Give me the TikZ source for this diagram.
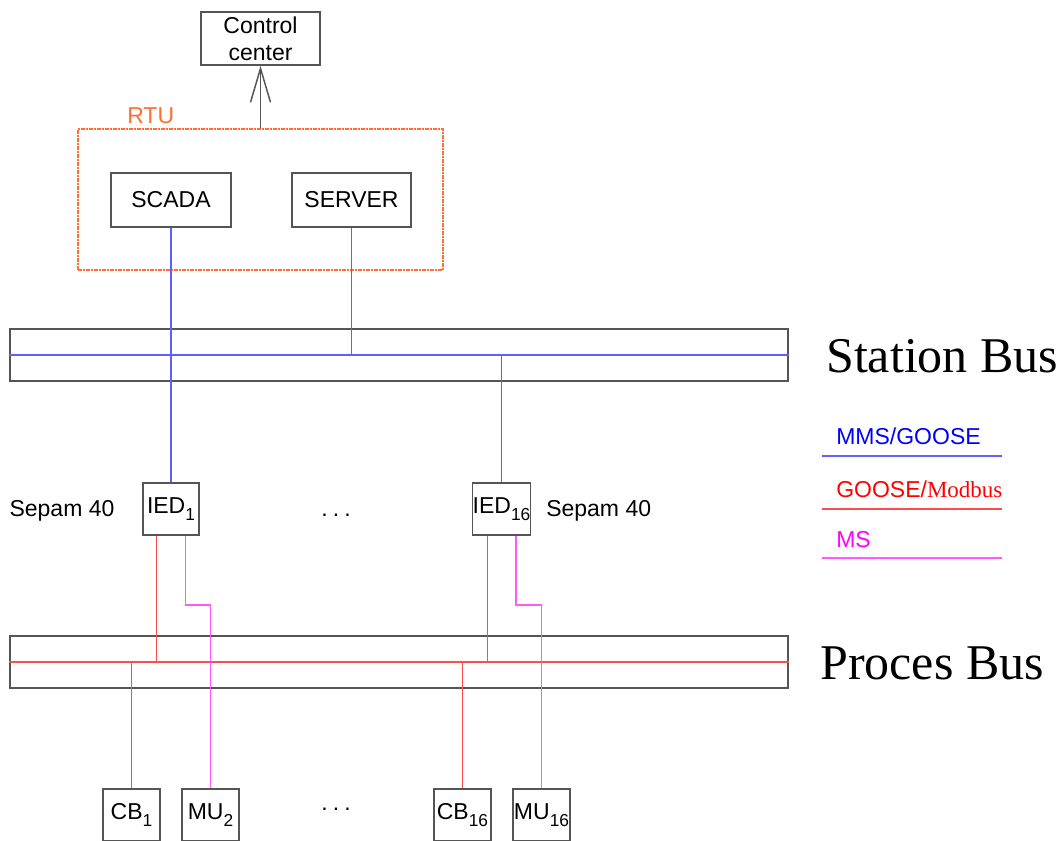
\documentclass[tikz,border=0pt]{standalone}
\usepackage{fontspec}
\setmainfont{Liberation Sans}
\newfontfamily\timesfont{Liberation Serif}
\usetikzlibrary{arrows.meta,calc}

\definecolor{boxgray}{RGB}{85,85,85}
\definecolor{rtuorange}{RGB}{255,110,50}
\definecolor{mmsblue}{RGB}{95,95,255}
\definecolor{gooseline}{RGB}{255,75,75}
\definecolor{msline}{RGB}{255,90,255}
\definecolor{puremagenta}{RGB}{255,0,255}
\definecolor{pureblue}{RGB}{0,0,255}
\definecolor{purered}{RGB}{255,0,0}

% subscript set lower and larger than \textsubscript
\newcommand\idx[1]{\raisebox{-0.28em}{\fontsize{13}{13}\selectfont #1}}
% widely spaced ellipsis
\newcommand\wdots{.\hspace{0.22em}.\hspace{0.22em}.}

\begin{document}
\begin{tikzpicture}[x=0.75pt,y=-0.75pt,
  font=\fontsize{17.25}{20.25}\selectfont,
  box/.style={draw=boxgray, line width=1.1pt, inner sep=0pt, align=center},
  smallbox/.style={box, minimum width=42.5pt, minimum height=39pt},
  busbar/.style={draw=boxgray, line width=1.3pt, inner sep=0pt,
                 minimum width=583.5pt, minimum height=39pt},
  mms/.style={draw=mmsblue, line width=1.15pt},
  goose/.style={draw=gooseline, line width=1.15pt},
  ms/.style={draw=msline, line width=1.2pt},
  bigtitle/.style={font=\timesfont\fontsize{37.5}{40}\selectfont, anchor=base west, inner sep=0pt},
  legendtext/.style={anchor=base west, inner sep=0pt},
]
\useasboundingbox (0,0) rectangle (1062,840);
\clip (0,0) rectangle (1062,840);

% control centre and RTU
\node[box, minimum width=89.25pt, minimum height=39.75pt] (cc) at (260.5,38.5) {Control\\center};
\node[draw=rtuorange, line width=0.9pt, dash pattern=on 3pt off 1pt on 1pt off 1pt,
      minimum width=273.75pt, minimum height=105.75pt, inner sep=0pt] (rtu) at (260.5,199.5) {};
\node[text=rtuorange, anchor=base west, inner sep=0pt] (rtulabel) at (127,123) {RTU};
\node[box, minimum width=90pt, minimum height=40.5pt] (scada) at (171,200) {SCADA};
\node[box, minimum width=89.25pt, minimum height=40.5pt] (server) at (351.5,200) {SERVER};
\draw[draw=boxgray, line width=1.1pt, -{Straight Barb[length=25.5pt, width=15pt, line width=1.1pt]}]
  (rtu.north) -- (cc.south);

% buses
\node[busbar] (sbus) at (399.35,355) {};
\node[busbar] (pbus) at (399.35,662) {};
\node[bigtitle] (sbuslabel) at (826,372) {Station Bus};
\node[bigtitle] (pbuslabel) at (820,679) {Proces Bus};

% IEDs
\node[smallbox, minimum width=42pt] (ied1) at (171,509) {IED\idx{1}};
\node[smallbox] (ied16) at (501.5,509) {IED\idx{16}};
\node[anchor=base, inner sep=0pt] (sep1) at (62,516) {Sepam 40};
\node[anchor=base west, inner sep=0pt] (sep16) at (546,516) {Sepam 40};
\node[anchor=base, inner sep=0pt] (dots1) at (336,516) {\wdots};

% field devices
\node[smallbox] (cb1) at (131.5,815) {CB\idx{1}};
\node[smallbox] (mu2) at (210.5,815) {MU\idx{2}};
\node[smallbox] (cb16) at (462.5,815) {CB\idx{16}};
\node[smallbox] (mu16) at (541.5,815) {MU\idx{16}};
\node[anchor=base, inner sep=0pt] (dots2) at (336,810) {\wdots};

% station bus (MMS/GOOSE)
\draw[mms] (sbus.west) -- (sbus.east);
\draw[mms] (scada.south) -- (ied1.north);
\draw[mms] (server.south) -- (server.south |- sbus.center);
\draw[mms] (ied16.north |- sbus.center) -- (ied16.north);

% process bus (GOOSE/Modbus)
\coordinate (i1r) at ($(ied1.south west)!0.25!(ied1.south east)$);
\coordinate (i16r) at ($(ied16.south west)!0.26!(ied16.south east)$);
\draw[goose] (pbus.west) -- (pbus.east);
\draw[goose] (i1r) -- (i1r |- pbus.center);
\draw[goose] (i16r) -- (i16r |- pbus.center);
\draw[goose] (cb1.north |- pbus.center) -- (cb1.north);
\draw[goose] (cb16.north |- pbus.center) -- (cb16.north);

% sampled values (MS)
\coordinate (i1m) at ($(ied1.south west)!0.75!(ied1.south east)$);
\coordinate (i16m) at ($(ied16.south west)!0.75!(ied16.south east)$);
\coordinate (jog2) at (210.5,605);
\coordinate (jog16) at (541.5,605);
\draw[ms] (i1m) |- (jog2) -- (mu2.north);
\draw[ms] (i16m) |- (jog16) -- (mu16.north);

% legend
\node[legendtext, text=pureblue] (lg1) at (836,444) {MMS/GOOSE};
\node[legendtext, text=purered] (lg2) at (836,497) {GOOSE/{\timesfont Modbus}};
\node[legendtext, text=puremagenta] (lg3) at (836,547) {MS};
\coordinate (l1a) at (822,456); \coordinate (l1b) at (1002,456);
\coordinate (l2a) at (822,509); \coordinate (l2b) at (1002,509);
\coordinate (l3a) at (822,558); \coordinate (l3b) at (1002,558);
\draw[mms] (l1a) -- (l1b);
\draw[goose] (l2a) -- (l2b);
\draw[ms] (l3a) -- (l3b);
\end{tikzpicture}
\end{document}
